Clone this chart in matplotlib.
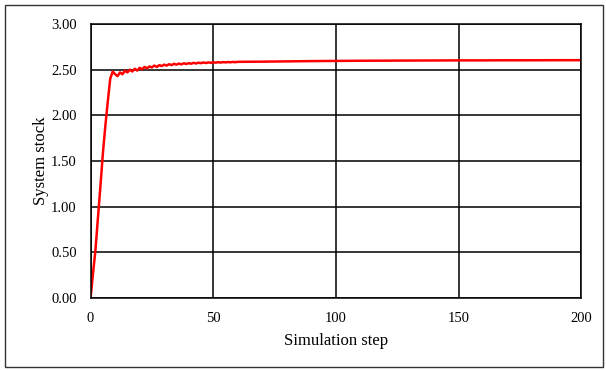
import matplotlib
matplotlib.use("Agg")
import matplotlib.pyplot as plt
from matplotlib.patches import Rectangle

# simulated stock per step (dense early, sparse later where the curve is flat)
steps = list(range(0, 61)) + [70, 80, 90, 100, 110, 120, 130, 140, 150,
                              160, 170, 180, 190, 200]
stock = [0.00, 0.27, 0.53, 0.88, 1.22, 1.58, 1.88, 2.15, 2.40, 2.48,
         2.45, 2.43, 2.47, 2.45, 2.49, 2.47, 2.50, 2.48, 2.51, 2.49,
         2.52, 2.505, 2.53, 2.515, 2.535, 2.525, 2.545, 2.53, 2.55, 2.54,
         2.555, 2.545, 2.56, 2.55, 2.565, 2.555, 2.567, 2.558, 2.57, 2.562,
         2.572, 2.565, 2.575, 2.568, 2.577, 2.571, 2.579, 2.573, 2.58, 2.575,
         2.581, 2.577, 2.582, 2.578, 2.583, 2.580, 2.584, 2.581, 2.585, 2.582,
         2.586,
         2.588, 2.591, 2.594, 2.596, 2.598, 2.599, 2.600, 2.601, 2.602,
         2.602, 2.603, 2.603, 2.604, 2.604]

x_ticks = [0, 50, 100, 150, 200]
y_ticks = [0.0, 0.5, 1.0, 1.5, 2.0, 2.5, 3.0]

plt.rcParams['font.family'] = ['Liberation Serif', 'DejaVu Serif']

fig = plt.figure(figsize=(6.06, 3.70), dpi=100)
ax = fig.add_axes([0.1495, 0.195, 0.8095, 0.740])

ax.plot(steps, stock, color="red", lw=1.8, solid_joinstyle="round")

ax.set_xlim(0, 200)
ax.set_ylim(0, 3.0)
ax.set_xticks(x_ticks)
ax.set_yticks(y_ticks)
ax.set_yticklabels([f"{v:.2f}" for v in y_ticks])
ax.grid(True, color="black", lw=1.1)
ax.set_axisbelow(True)
ax.tick_params(length=0, labelsize=10.5)
ax.tick_params(axis="y", pad=10)
ax.tick_params(axis="x", pad=10)
for s in ax.spines.values():
    s.set_color("black")
    s.set_linewidth(1.1)

ax.set_xlabel("Simulation step", fontsize=12, labelpad=6)
ax.set_ylabel("System stock", fontsize=12)
ax.yaxis.set_label_coords(-0.085, 0.5)

fig.patches.append(Rectangle((5 / 606, 3 / 370), 598 / 606, 362 / 370,
                             transform=fig.transFigure, fill=False,
                             edgecolor="#333333", lw=1.0))

fig.savefig("out.png", dpi=100)
